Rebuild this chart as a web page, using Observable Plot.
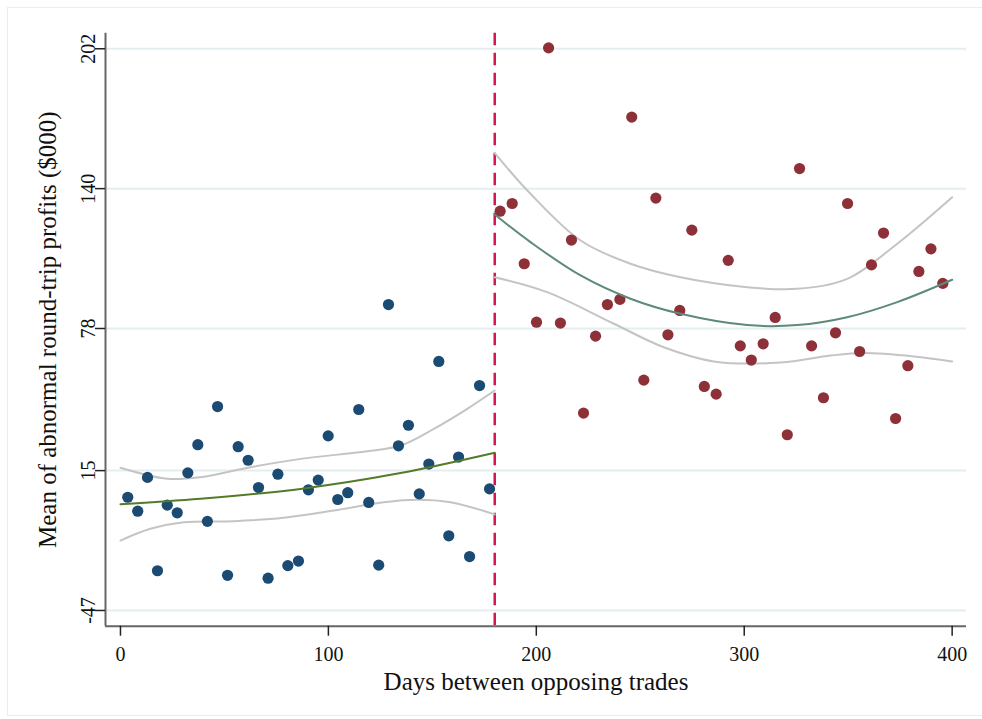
<!DOCTYPE html>
<html>
<head>
<meta charset="utf-8">
<script src="https://cdn.jsdelivr.net/npm/d3@7"></script>
<script src="https://cdn.jsdelivr.net/npm/@observablehq/plot@0.6"></script>
<style>
  html, body { margin: 0; padding: 0; background: #fff; }
  #wrap { position: relative; width: 982px; height: 719px; overflow: hidden; }
  #border { position: absolute; left: 7px; top: 7px; width: 1000px; height: 707px;
            border-left: 1.5px solid #e6eef0; border-top: 1.5px solid #e6eef0; border-bottom: 1.5px solid #e6eef0; }
  #chart { position: absolute; left: 0; top: 0; }
</style>
</head>
<body>
<div id="wrap"><div id="border"></div><div id="chart"></div></div>
<script>
// ---- Data ----
const xTicks = [0, 100, 200, 300, 400];
const yTicks = [-47, 15, 78, 140, 202];
const cutoff = [180];

const beforeDays = [3.5, 8.3, 13.0, 17.8, 22.5, 27.3, 32.4, 37.2, 41.8, 46.7, 51.5, 56.6, 61.4, 66.4, 71.0, 75.7, 80.5, 85.6, 90.4, 95.1, 99.9, 104.5, 109.3, 114.6, 119.4, 124.2, 128.9, 133.7, 138.5, 143.7, 148.3, 153.1, 157.9, 162.6, 167.9, 172.7, 177.5];
const beforeProfit = [3.2, -3.0, 12.0, -29.4, -0.3, -3.7, 14.0, 26.5, -7.5, 43.4, -31.4, 25.6, 19.6, 7.5, -32.7, 13.4, -27.1, -25.1, 6.5, 10.8, 30.4, 2.2, 5.2, 42.1, 0.9, -26.9, 88.6, 26.0, 35.1, 4.7, 17.9, 63.4, -13.9, 21.0, -23.1, 52.7, 6.9];

const afterDays = [182.6, 188.4, 194.2, 200.1, 205.9, 211.6, 216.9, 222.7, 228.5, 234.2, 240.2, 245.9, 251.7, 257.5, 263.3, 269.0, 274.8, 280.8, 286.5, 292.3, 298.1, 303.4, 309.1, 314.9, 320.7, 326.6, 332.4, 338.1, 343.9, 349.7, 355.5, 361.2, 367.0, 372.8, 378.7, 384.0, 389.8, 395.5];
const afterProfit = [130.0, 133.4, 106.7, 80.8, 202.4, 80.4, 117.2, 40.5, 74.6, 88.6, 90.9, 171.7, 55.1, 135.8, 75.2, 86.0, 121.6, 52.3, 48.9, 108.2, 70.3, 64.0, 71.2, 82.9, 30.9, 148.9, 70.3, 47.3, 76.1, 133.4, 67.8, 106.2, 120.3, 38.1, 61.5, 103.3, 113.3, 98.0];

// Fitted curve and confidence band, before cutoff
const fitBeforeDays = [0, 38.5, 86.6, 134.7, 180];
const fitBeforeVals = [0.1, 2.5, 6.9, 13.9, 22.9];
const ciBeforeHiDays = [0, 22.5, 38.5, 62.5, 86.6, 118.7, 134.7, 150.7, 166.8, 180];
const ciBeforeHiVals = [16.3, 11.4, 12.1, 16.5, 20.2, 23.6, 26.1, 33.5, 42.4, 50.5];
const ciBeforeLoDays = [0, 14.4, 30.4, 54.5, 78.5, 102.6, 126.6, 142.7, 158.7, 180];
const ciBeforeLoVals = [-16.0, -10.8, -7.9, -7.4, -5.9, -2.7, 1.0, 2.1, 1.0, -4.4];

// Fitted curve and confidence band, after cutoff
const fitAfterDays = [180, 197.2, 221.3, 245.3, 269.4, 301.4, 325.5, 349.5, 373.6, 400];
const fitAfterVals = [128.5, 116.3, 101.5, 91.2, 84.5, 79.5, 79.5, 83.0, 89.7, 99.6];
const ciAfterHiDays = [180, 197.2, 221.3, 245.3, 269.4, 301.4, 325.5, 349.5, 373.6, 400];
const ciAfterHiVals = [155.7, 137.7, 117.0, 106.7, 100.7, 96.3, 95.6, 100.0, 115.6, 136.2];
const ciAfterLoDays = [180, 205.2, 237.3, 261.3, 285.4, 317.5, 341.5, 357.5, 381.6, 400];
const ciAfterLoVals = [100.7, 94.1, 80.1, 69.7, 63.4, 62.9, 66.0, 67.1, 65.6, 63.4];

const zip = (xs, ys) => xs.map((x, i) => ({x, y: ys[i]}));

const X0 = -7.2, X1 = 406.9, Y0 = -53.97, Y1 = 208.9;
const serif = "'Liberation Serif', 'Times New Roman', serif";

const chart = Plot.plot({
  width: 982,
  height: 719,
  marginLeft: 105,
  marginRight: 16,
  marginTop: 32.7,
  marginBottom: 93.3,
  style: { fontFamily: serif, background: "transparent", color: "#111" },
  x: { domain: [X0, X1] },
  y: { domain: [Y0, Y1] },
  marks: [
    Plot.gridY(yTicks, { stroke: "#e4eef0", strokeOpacity: 1, strokeWidth: 2 }),
    Plot.ruleX(cutoff, { stroke: "#d3164b", strokeWidth: 2.5, strokeDasharray: "12.5,7.5" }),
    Plot.line(zip(ciBeforeHiDays, ciBeforeHiVals), { x: "x", y: "y", curve: "catmull-rom", stroke: "#c4c4c4", strokeWidth: 2 }),
    Plot.line(zip(ciBeforeLoDays, ciBeforeLoVals), { x: "x", y: "y", curve: "catmull-rom", stroke: "#c4c4c4", strokeWidth: 2 }),
    Plot.line(zip(ciAfterHiDays, ciAfterHiVals), { x: "x", y: "y", curve: "catmull-rom", stroke: "#c4c4c4", strokeWidth: 2 }),
    Plot.line(zip(ciAfterLoDays, ciAfterLoVals), { x: "x", y: "y", curve: "catmull-rom", stroke: "#c4c4c4", strokeWidth: 2 }),
    Plot.dot(zip(beforeDays, beforeProfit), { x: "x", y: "y", r: 5.6, fill: "#1b4a73", stroke: "none" }),
    Plot.dot(zip(afterDays, afterProfit), { x: "x", y: "y", r: 5.6, fill: "#8e3038", stroke: "none" }),
    Plot.line(zip(fitBeforeDays, fitBeforeVals), { x: "x", y: "y", curve: "catmull-rom", stroke: "#537b2a", strokeWidth: 2 }),
    Plot.line(zip(fitAfterDays, fitAfterVals), { x: "x", y: "y", curve: "catmull-rom", stroke: "#5d8a7a", strokeWidth: 2 }),
    Plot.ruleX([X0], { stroke: "#666", strokeWidth: 2 }),
    Plot.ruleY([Y0], { stroke: "#666", strokeWidth: 2 }),
    Plot.axisX(xTicks, { tickSize: 10, tickPadding: 11, fontSize: 20, label: null, stroke: "#222", strokeWidth: 1.5, tickFormat: d => String(d) }),
    Plot.axisY(yTicks, { tickSize: 10, ticks: yTicks, text: null, label: null, stroke: "#222", strokeWidth: 1.5 }),
    Plot.text(yTicks, { y: d => d, frameAnchor: "left", dx: -17, rotate: -90, text: d => String(d), textAnchor: "middle", lineAnchor: "middle", fontSize: 20, fill: "#111" }),
    Plot.text(["Days between opposing trades"], { frameAnchor: "bottom", dy: 56, textAnchor: "middle", lineAnchor: "middle", fontSize: 25, fill: "#111" }),
    Plot.text(["Mean of abnormal round-trip profits ($000)"], { frameAnchor: "left", dx: -58, rotate: -90, textAnchor: "middle", lineAnchor: "middle", fontSize: 25, fill: "#111" })
  ]
});
document.getElementById("chart").appendChild(chart);
</script>
</body>
</html>
